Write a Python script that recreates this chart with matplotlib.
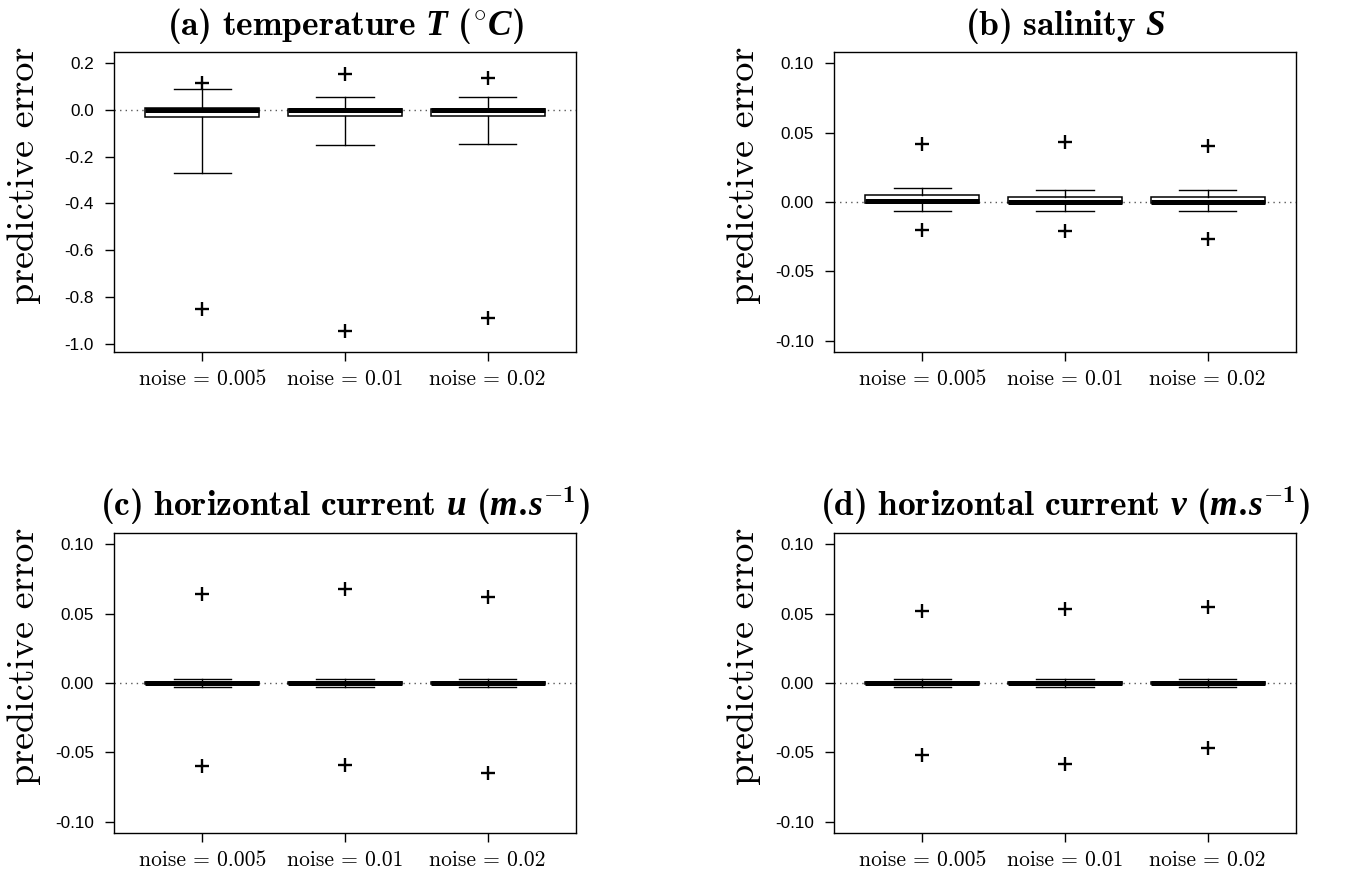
import matplotlib
matplotlib.use("Agg")
import matplotlib.pyplot as plt

plt.rcParams["mathtext.fontset"] = "custom"
plt.rcParams["mathtext.rm"] = "cmr10"
plt.rcParams["mathtext.it"] = "cmmi10"
plt.rcParams["mathtext.bf"] = "cmb10"
plt.rcParams["mathtext.bfit"] = "Liberation Serif:italic:bold"
plt.rcParams["axes.unicode_minus"] = False

# x categories
noise_labels = ["noise = 0.005", "noise = 0.01", "noise = 0.02"]

# summary statistics: (q1, median, q3, lower whisker, upper whisker)
temp_q1 = [-0.030, -0.028, -0.028]
temp_med = [-0.002, -0.002, -0.002]
temp_q3 = [0.007, 0.006, 0.006]
temp_wlo = [-0.268, -0.148, -0.147]
temp_whi = [0.091, 0.057, 0.056]
temp_fliers = [[0.117, -0.852], [0.155, -0.945], [0.138, -0.890]]

sal_q1 = [-0.0008, -0.0008, -0.0008]
sal_med = [0.0006, 0.0002, 0.0003]
sal_q3 = [0.0049, 0.0036, 0.0036]
sal_wlo = [-0.0064, -0.0062, -0.0062]
sal_whi = [0.0102, 0.0083, 0.0088]
sal_fliers = [[0.042, -0.020], [0.043, -0.021], [0.040, -0.027]]

u_q1 = [-0.0004, -0.0004, -0.0004]
u_med = [0.0, 0.0, 0.0]
u_q3 = [0.0004, 0.0004, 0.0004]
u_wlo = [-0.0027, -0.0028, -0.0026]
u_whi = [0.0030, 0.0030, 0.0028]
u_fliers = [[0.064, -0.060], [0.068, -0.059], [0.062, -0.065]]

v_q1 = [-0.0004, -0.0004, -0.0004]
v_med = [0.0, 0.0, 0.0]
v_q3 = [0.0004, 0.0004, 0.0004]
v_wlo = [-0.0027, -0.0028, -0.0026]
v_whi = [0.0028, 0.0030, 0.0028]
v_fliers = [[0.052, -0.052], [0.053, -0.058], [0.055, -0.047]]

titles = [
    r"$\mathbf{(a)\ temperature}\ \mathbfit{T}\ \mathbf{(}^{\circ}\mathbfit{C}\mathbf{)}$",
    r"$\mathbf{(b)\ salinity}\ \mathbfit{S}$",
    r"$\mathbf{(c)\ horizontal\ current}\ \mathbfit{u}\ \mathbf{(}\mathbfit{m}\mathbf{.}\!\mathbfit{s}^{\mathbf{-1}}\mathbf{)}$",
    r"$\mathbf{(d)\ horizontal\ current}\ \mathbfit{v}\ \mathbf{(}\mathbfit{m}\mathbf{.}\!\mathbfit{s}^{\mathbf{-1}}\mathbf{)}$",
]

panels = [
    (temp_q1, temp_med, temp_q3, temp_wlo, temp_whi, temp_fliers),
    (sal_q1, sal_med, sal_q3, sal_wlo, sal_whi, sal_fliers),
    (u_q1, u_med, u_q3, u_wlo, u_whi, u_fliers),
    (v_q1, v_med, v_q3, v_wlo, v_whi, v_fliers),
]
ylims = [(-1.036, 0.248), (-0.108, 0.108), (-0.108, 0.108), (-0.108, 0.108)]
yticks = [
    [0.2, 0.0, -0.2, -0.4, -0.6, -0.8, -1.0],
    [0.10, 0.05, 0.00, -0.05, -0.10],
    [0.10, 0.05, 0.00, -0.05, -0.10],
    [0.10, 0.05, 0.00, -0.05, -0.10],
]
yfmt = ["{:.1f}", "{:.2f}", "{:.2f}", "{:.2f}"]

fig = plt.figure(figsize=(13.47, 8.71), dpi=100)
W, H = 1347, 871
boxes_px = [(114, 52, 576, 352), (834, 52, 1296, 352),
            (114, 533, 576, 833), (834, 533, 1296, 833)]

for k, (x0, y0, x1, y1) in enumerate(boxes_px):
    ax = fig.add_axes([x0 / W, 1 - y1 / H, (x1 - x0) / W, (y1 - y0) / H])
    q1, med, q3, wlo, whi, fl = panels[k]
    stats = []
    for i in range(3):
        stats.append(dict(q1=q1[i], med=med[i], q3=q3[i], whislo=wlo[i],
                          whishi=whi[i], fliers=fl[i]))
    ax.axhline(0, color="0.35", linestyle=(0, (1, 3)), linewidth=1.0, zorder=0)
    ax.bxp(stats, positions=[1, 2, 3], widths=0.8, capwidths=0.4,
           patch_artist=True,
           boxprops=dict(facecolor="white", edgecolor="black", linewidth=1.1),
           medianprops=dict(color="black", linewidth=3.6, solid_capstyle="butt"),
           whiskerprops=dict(color="black", linewidth=1.0),
           capprops=dict(color="black", linewidth=1.0),
           flierprops=dict(marker="+", markersize=9.5, markeredgewidth=1.7,
                           markeredgecolor="black"))
    ax.set_xlim(0.38, 3.62)
    ax.set_ylim(*ylims[k])
    ax.set_xticks([1, 2, 3])
    ax.set_xticklabels(noise_labels, fontfamily="cmr10", fontsize=15.5)
    ax.set_yticks(yticks[k])
    ax.set_yticklabels([yfmt[k].format(t) for t in yticks[k]],
                       fontfamily="Liberation Sans", fontsize=12.3)
    ax.tick_params(axis="both", direction="out", length=6.5, width=1.0)
    ax.tick_params(axis="y", pad=8)
    ax.tick_params(axis="x", pad=6)
    for s in ax.spines.values():
        s.set_linewidth(1.0)
    ax.set_ylabel("predictive error", fontfamily="cmr10", fontsize=27.5)
    ax.yaxis.set_label_coords(-0.158, 0.59)
    ax.set_title(titles[k], fontsize=25.5, pad=12)

fig.savefig("out.png", dpi=100)
